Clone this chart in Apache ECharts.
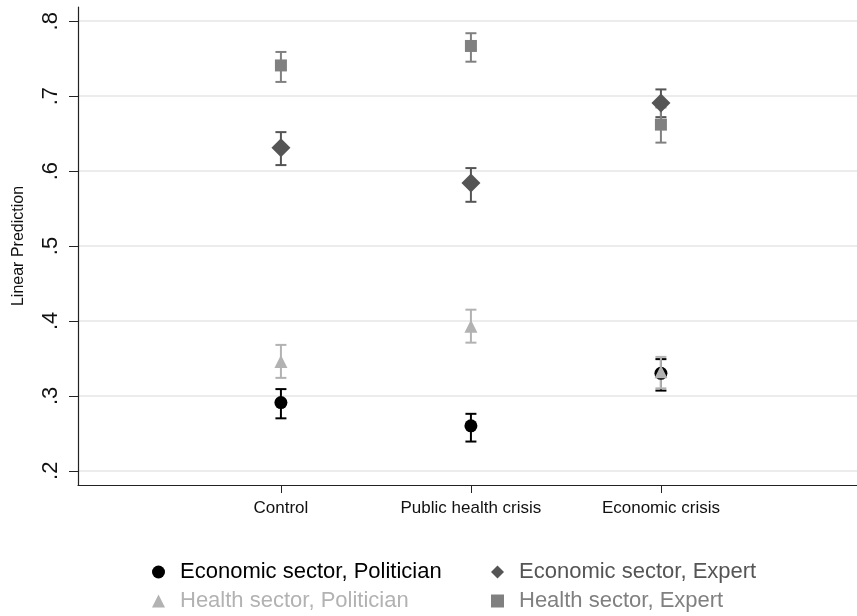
<!DOCTYPE html>
<html>
<head>
<meta charset="utf-8">
<script src="https://cdn.jsdelivr.net/npm/echarts@6/dist/echarts.min.js"></script>
<style>
html,body{margin:0;padding:0;background:#fff;}
#chart{width:857px;height:616px;}
</style>
</head>
<body>
<div id="chart"></div>
<script>
// ---- data ----
const categories = ['Control', 'Public health crisis', 'Economic crisis'];
const yTicks = [0.2, 0.3, 0.4, 0.5, 0.6, 0.7, 0.8];

const econPol    = [0.291, 0.260, 0.330];
const econPolLo  = [0.270, 0.239, 0.307];
const econPolHi  = [0.309, 0.276, 0.349];

const econExp    = [0.631, 0.584, 0.691];
const econExpLo  = [0.608, 0.559, 0.672];
const econExpHi  = [0.652, 0.604, 0.709];

const healthPol   = [0.346, 0.393, 0.332];
const healthPolLo = [0.324, 0.371, 0.310];
const healthPolHi = [0.368, 0.415, 0.352];

const healthExp   = [0.741, 0.767, 0.662];
const healthExpLo = [0.719, 0.746, 0.638];
const healthExpHi = [0.759, 0.784, 0.685];

// ---- styles ----
const groups = [
  {name: 'Economic sector, Politician', vals: econPol, lo: econPolLo, hi: econPolHi, color: '#000000', symbol: 'circle', size: 13},
  {name: 'Economic sector, Expert', vals: econExp, lo: econExpLo, hi: econExpHi, color: '#555555', symbol: 'diamond', size: [19, 19]},
  {name: 'Health sector, Politician', vals: healthPol, lo: healthPolLo, hi: healthPolHi, color: '#b2b2b2', symbol: 'triangle', size: 13},
  {name: 'Health sector, Expert', vals: healthExp, lo: healthExpLo, hi: healthExpHi, color: '#808080', symbol: 'rect', size: 12}
];

const series = [];
groups.forEach(g => {
  series.push({
    type: 'custom',
    name: g.name + ' CI',
    data: categories.map((c, i) => [i + 1, g.lo[i], g.hi[i]]),
    renderItem: function (params, api) {
      const x = api.value(0);
      const top = api.coord([x, api.value(2)]);
      const bot = api.coord([x, api.value(1)]);
      const hw = 5.5;
      const st = {stroke: g.color, lineWidth: 2, fill: null};
      return {
        type: 'group',
        children: [
          {type: 'line', shape: {x1: top[0], y1: top[1], x2: bot[0], y2: bot[1]}, style: st},
          {type: 'line', shape: {x1: top[0] - hw, y1: top[1], x2: top[0] + hw, y2: top[1]}, style: st},
          {type: 'line', shape: {x1: bot[0] - hw, y1: bot[1], x2: bot[0] + hw, y2: bot[1]}, style: st}
        ]
      };
    },
    silent: true
  });
  series.push({
    type: 'scatter',
    name: g.name,
    data: categories.map((c, i) => [i + 1, g.vals[i]]),
    symbol: g.symbol,
    symbolSize: g.size,
    itemStyle: {color: g.color, opacity: 1},
    emphasis: {disabled: true}
  });
});

const chart = echarts.init(document.getElementById('chart'), null, {renderer: 'canvas'});
const legendCommon = {
  orient: 'vertical',
  top: 560,
  height: 56,
  padding: 0,
  itemWidth: 13,
  itemHeight: 13,
  itemGap: 5,
  textStyle: {fontFamily: 'Liberation Sans, Arial, sans-serif', fontSize: 22, lineHeight: 24, padding: [0, 0, 0, 10]},
  selectedMode: false
};
chart.setOption({
  animation: false,
  backgroundColor: '#ffffff',
  grid: {left: 78, top: 7, right: 0, bottom: 131, containLabel: false, outerBoundsMode: 'none'},
  xAxis: {
    type: 'value',
    min: -0.068,
    max: 4.032,
    axisLine: {show: true, onZero: false, lineStyle: {color: '#222', width: 1.2}},
    axisTick: {show: true, length: 8, customValues: [1, 2, 3], lineStyle: {color: '#222'}},
    axisLabel: {
      customValues: [1, 2, 3],
      formatter: v => categories[Math.round(v) - 1] || '',
      color: '#111',
      fontFamily: 'Liberation Sans, Arial, sans-serif',
      fontSize: 17,
      margin: 15
    },
    splitLine: {show: false}
  },
  yAxis: {
    type: 'value',
    min: 0.181,
    max: 0.819,
    name: 'Linear Prediction',
    nameLocation: 'middle',
    nameGap: 51,
    nameRotate: 90,
    nameMoveOverlap: false,
    nameTextStyle: {color: '#111', fontFamily: 'Liberation Sans, Arial, sans-serif', fontSize: 16},
    axisLine: {show: true, onZero: false, lineStyle: {color: '#222', width: 1.2}},
    axisTick: {show: true, length: 9, customValues: yTicks, lineStyle: {color: '#222'}},
    axisLabel: {
      customValues: yTicks,
      rotate: 90,
      formatter: v => '.' + Math.round(v * 10),
      color: '#111',
      fontFamily: 'Liberation Sans, Arial, sans-serif',
      fontSize: 22,
      margin: 16
    },
    splitLine: {show: true, lineStyle: {color: '#e6e6e6', width: 1.5}}
  },
  legend: [
    Object.assign({}, legendCommon, {
      left: 152,
      data: [
        {name: groups[0].name, textStyle: {color: groups[0].color}},
        {name: groups[2].name, textStyle: {color: groups[2].color}}
      ]
    }),
    Object.assign({}, legendCommon, {
      left: 491,
      data: [
        {name: groups[1].name, textStyle: {color: groups[1].color}},
        {name: groups[3].name, textStyle: {color: groups[3].color}}
      ]
    })
  ],
  series: series
});
</script>
</body>
</html>
